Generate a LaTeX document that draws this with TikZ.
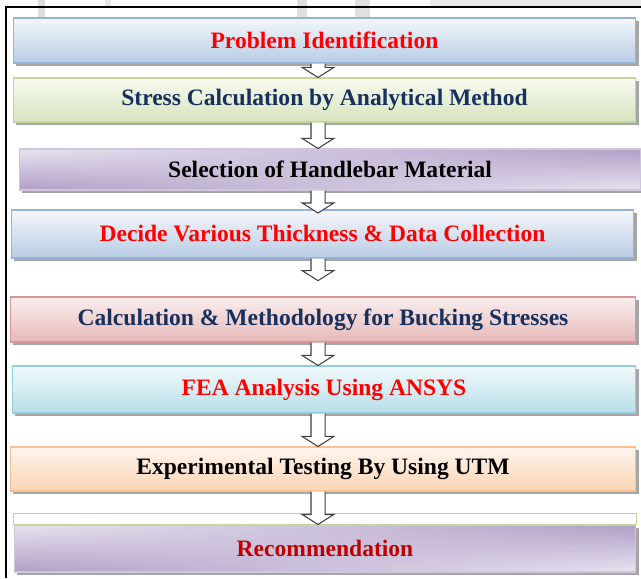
\documentclass[tikz,border=0pt]{standalone}
\usepackage{fontspec}
\setmainfont{Liberation Serif}
\usetikzlibrary{calc,shadows}

\definecolor{bluetop}{HTML}{F4F7FB}
\definecolor{bluebot}{HTML}{B8CCE4}
\definecolor{blueline}{HTML}{95B3D7}
\definecolor{greentop}{HTML}{F8FAF0}
\definecolor{greenbot}{HTML}{D7E4BD}
\definecolor{greenline}{HTML}{C3D69B}
\definecolor{purpleline}{HTML}{CFC5DD}
\definecolor{redtop}{HTML}{FAEEEE}
\definecolor{redbot}{HTML}{E6B9B8}
\definecolor{redline}{HTML}{D99694}
\definecolor{cyantop}{HTML}{F2FAFC}
\definecolor{cyanbot}{HTML}{B7DEE8}
\definecolor{cyanline}{HTML}{93CDDD}
\definecolor{orangetop}{HTML}{FEF5EE}
\definecolor{orangebot}{HTML}{FBD4B4}
\definecolor{orangeline}{HTML}{FAC090}
\definecolor{navytext}{HTML}{17305E}
\definecolor{redtext}{HTML}{FF0000}
\definecolor{darkredtext}{HTML}{C00000}

% purple fill: light top-left and bottom-right, dark bottom-left and top-right
\pgfdeclarefunctionalshading{twistpurple}{\pgfpoint{0bp}{0bp}}{\pgfpoint{100bp}{100bp}}{}{
  50 sub exch 50 sub mul 1250 div 0.5 add
  dup dup -0.22 mul 0.91 add 3 1 roll -0.27 mul 0.89 add exch -0.16 mul 0.94 add
}

\tikzset{
  stage/.style={rectangle, draw, line width=0.6pt, inner sep=0pt,
    minimum width=12.46cm, minimum height=0.9cm,
    font=\fontsize{13.4}{15}\selectfont\bfseries,
    general shadow={fill=black!35, shadow xshift=1.7pt, shadow yshift=-1.7pt}},
  bluestage/.style={stage, draw=blueline, top color=bluetop, bottom color=bluebot},
  greenstage/.style={stage, draw=greenline, top color=greentop, bottom color=greenbot},
  redstage/.style={stage, draw=redline, top color=redtop, bottom color=redbot},
  cyanstage/.style={stage, draw=cyanline, top color=cyantop, bottom color=cyanbot},
  orangestage/.style={stage, draw=orangeline, top color=orangetop, bottom color=orangebot},
  purplestage/.style={stage, draw=purpleline, shading=twistpurple},
  flowarrow/.style={draw=black!75, fill=white, line width=0.6pt, line join=miter},
}

% hollow block arrow from the bottom of #2 down to the top of #3
\newcommand{\flowarrow}[3][0pt]{%
  \path[flowarrow] let \p1=(#2.south -| spine), \p2=(#3.north -| spine) in
    (\x1-4pt,\y1) -- (\x1-4pt,\y2+#1+5.7pt) -- (\x1-9pt,\y2+#1+5.7pt) -- (\x1,\y2+#1)
    -- (\x1+9pt,\y2+#1+5.7pt) -- (\x1+4pt,\y2+#1+5.7pt) -- (\x1+4pt,\y1);
}

\begin{document}
\begin{tikzpicture}[x=0.02cm,y=-0.02cm]
\useasboundingbox (0,0) rectangle (641,578);

% faint marks along the top edge
\fill[black!13] (38,0) rectangle (45,19);
\fill[black!10] (105,0) rectangle (111,6);
\fill[black!12] (297,0) rectangle (307,19);
\fill[black!12] (355,0) rectangle (370,19);
\fill[black!8] (430,0) rectangle (641,6);

\draw[line width=0.9pt] (6,578) -- (6,7) -- (641,7);

\coordinate (spine) at (318,0);

\node[bluestage, text=redtext] (probid) at (324.5,40.5) {Problem Identification};
\node[greenstage, text=navytext, minimum height=0.88cm] (stress) at (324.5,100) {Stress Calculation by Analytical Method};
\node[purplestage, minimum width=12.44cm, minimum height=0.82cm] (material) at (330,169.5) {Selection of Handlebar Material};
\node[bluestage, text=redtext, minimum height=0.96cm] (thick) at (322.5,234) {Decide Various Thickness \& Data Collection};
\node[redstage, text=navytext, minimum width=12.52cm] (buckling) at (323,319.5) {Calculation \& Methodology for Bucking Stresses};
\node[cyanstage, text=redtext, minimum width=12.48cm, minimum height=0.94cm] (fea) at (324,389.5) {FEA Analysis Using ANSYS};
\node[orangestage, minimum width=12.52cm, minimum height=0.88cm] (utm) at (323,469) {Experimental Testing By Using UTM};
\node[purplestage, text=darkredtext, minimum width=12.44cm, minimum height=0.94cm] (recom) at (325,548.5) {Recommendation};

\draw[greenline, fill=white, line width=0.6pt] ($(recom.north west)+(0,-11)$) rectangle (recom.north east);

\flowarrow{probid}{stress}
\flowarrow{stress}{material}
\flowarrow[-2]{material}{thick}
\flowarrow[9]{thick}{buckling}
\flowarrow{buckling}{fea}
\flowarrow{fea}{utm}
\flowarrow{utm}{recom}
\end{tikzpicture}
\end{document}
